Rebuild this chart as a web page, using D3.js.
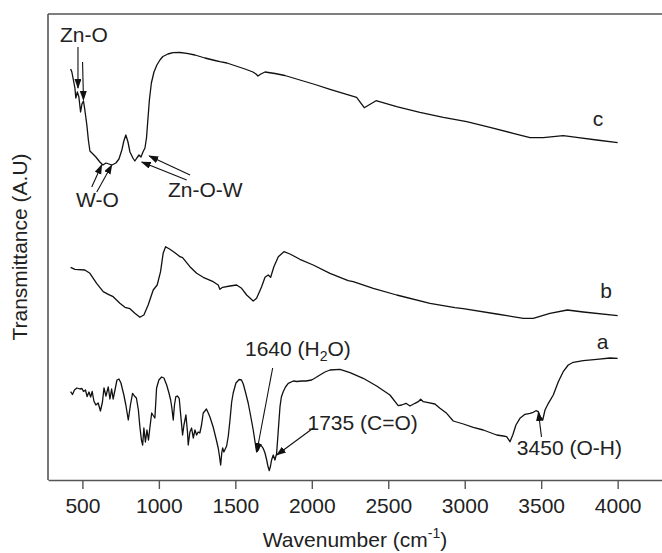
<!DOCTYPE html>
<html>
<head>
<meta charset="utf-8">
<script src="https://cdn.jsdelivr.net/npm/d3@7"></script>
<style>
  body { margin: 0; background: #fff; }
  text { font-family: "Liberation Sans", Arial, sans-serif; fill: #222; }
</style>
</head>
<body>
<div class="canvas"></div>
<script>
// spectra (wavenumber in cm-1, transmittance in a.u.)
const wnC = [423,431,441,451,457,467,477,488,497,507,516,529,539,549,569,588,614,634,654,673,693,719,739,758,771,784,798,811,830,843,856,870,883,896,909,919,928,938,951,968,987,1007,1026,1059,1092,1138,1183,1236,1301,1367,1399,1445,1484,1563,1615,1635,1648,1667,1694,1759,1824,1922,2021,2119,2206,2293,2343,2420,2555,2707,2860,3013,3165,3317,3427,3514,3644,3732,3863,4000];
const tC = [411,408,400,392,382,388,383,368,376,379,370,355,340,329,326,323,318,315,317,316,315,317,321,330,339,345,338,328,322,319,322,325,323,328,332,342,360,380,397,408,415,420,423.5,426,427.3,427.5,426.7,425,422,419.5,418.3,417,415,411,408,406,404,406,408,406.5,404.5,400,395.5,390.7,386.7,382.7,372.3,379.3,373.3,367.7,362.7,358.3,352.7,346.7,342.3,342.3,344.3,342.7,340,337.3];

const wnB = [423,451,516,549,593,636,669,701,745,778,811,843,876,902,930,963,989,1011,1028,1044,1072,1105,1138,1155,1203,1247,1290,1355,1388,1399,1417,1465,1508,1541,1574,1617,1639,1672,1694,1715,1731,1752,1781,1818,1857,1922,2009,2119,2238,2271,2402,2555,2773,2936,2990,3209,3383,3448,3557,3671,3775,4000];
const tB = [212.7,210.7,210,206.7,196.7,188.3,185.7,183.3,176.7,172.7,171.3,166.7,162.7,165,175,190,195,208.3,226.7,233.3,230.7,227.3,223.3,222.3,213.3,206.7,202.7,198.3,195,190.7,192.7,194,195,191.7,185,179,181.7,193.3,202.7,205,202.7,213.3,223.3,228.3,226,220.7,215,206.7,199.3,198.3,191.7,185,176.7,172.3,171.3,166,161.7,161.7,166.7,170,168,164.3];

const wnA = [423,435,448,464,484,497,507,520,531,543,554,564,575,588,603,618,631,641,654,669,680,691,701,713,726,739,752,771,784,800,814,828,840,853,866,876,886,894,902,912,922,932,941,953,961,974,985,1000,1018,1033,1051,1066,1077,1085,1094,1102,1111,1121,1133,1141,1155,1164,1177,1187,1192,1203,1214,1225,1236,1247,1257,1268,1279,1290,1301,1311,1323,1334,1355,1376,1388,1396,1404,1412,1417,1425,1443,1454,1465,1476,1486,1504,1525,1540,1552,1566,1584,1599,1617,1628,1639,1650,1658,1667,1682,1694,1705,1713,1722,1730,1737,1748,1759,1770,1781,1792,1801,1813,1828,1846,1879,1903,1934,1962,1999,2027,2053,2086,2119,2184,2250,2336,2424,2511,2565,2588,2616,2642,2675,2696,2712,2729,2762,2805,2838,2882,2925,2991,3056,3121,3209,3252,3274,3296,3314,3335,3361,3394,3427,3448,3466,3481,3492,3510,3525,3547,3579,3612,3644,3677,3710,3775,3863,3950,4000];
const tA = [88.3,85.5,90,92,91,91.5,88.5,90,83.5,88,83,88.5,79,75,77,69,78,92,84,93,81,91,81,90,100,101,97,85,75,60,75,86.7,84,82,70,53,40,35,52,38,50,40,52,67,65,62,92,100,103,102,95,87,80,72,60,75,83.3,84,81.7,68,45,55,65,48,35,48,52,42,50,45,48,47,55,67,69,71,67,63,53,40,32,24,15,28,32,28,34,44,60,78,87,97,100.5,100,96,88,77,65,50,39,28.3,30,33,35,31.7,27,20,14,9.3,14,20,25,20,26.7,50,73.3,83,88.3,93,96.7,99,98.5,99,99,100,102.5,105,108,110,110.7,107.3,101.7,94,85,74.3,75,76.7,74,76.7,78.3,80.7,78.3,77.3,76,71.7,66.7,59,56,52.7,50,45,44,43.3,38.3,45,55,61.7,65.7,66.7,67.7,69.3,68.3,63.3,60,70,76.7,85,98.3,108.3,115,117.7,119.3,120.7,122,121.7];

const xTicks = [500, 1000, 1500, 2000, 2500, 3000, 3500, 4000];

const width = 662;
const height = 553;
const margin = {top: 14, right: 0, bottom: 73, left: 48};

const svg = d3.select('.canvas')
  .append('svg')
  .attr('width', width)
  .attr('height', height);

const x = d3.scaleLinear()
  .domain([275, 4290])
  .range([margin.left, width - margin.right]);

const y = d3.scaleLinear()
  .domain([0, 466])
  .range([height - margin.bottom, margin.top]);

// arrow head
svg.append('defs').append('marker')
  .attr('id', 'head')
  .attr('markerUnits', 'userSpaceOnUse')
  .attr('markerWidth', 10)
  .attr('markerHeight', 8)
  .attr('refX', 9)
  .attr('refY', 3.5)
  .attr('orient', 'auto')
  .append('path')
    .attr('d', 'M0,0 L10,3.5 L0,7 Z')
    .attr('fill', '#111');

// frame: left and top lines, bottom is the axis
const frameColor = '#555';
svg.append('line')
  .attr('x1', margin.left).attr('x2', margin.left)
  .attr('y1', margin.top).attr('y2', height - margin.bottom)
  .attr('stroke', frameColor).attr('stroke-width', 1.6);
svg.append('line')
  .attr('x1', margin.left).attr('x2', width)
  .attr('y1', margin.top).attr('y2', margin.top)
  .attr('stroke', frameColor).attr('stroke-width', 1.6);

const xAxis = d3.axisBottom(x)
  .tickValues(xTicks)
  .tickSize(9)
  .tickSizeOuter(0)
  .tickFormat(d3.format('d'));

const xAxisGroup = svg.append('g')
  .attr('transform', `translate(0, ${height - margin.bottom})`)
  .call(xAxis);

xAxisGroup.select('.domain')
  .attr('stroke', frameColor)
  .attr('stroke-width', 1.6);
xAxisGroup.selectAll('.tick line')
  .attr('stroke', frameColor)
  .attr('stroke-width', 1.4);
xAxisGroup.selectAll('.tick text')
  .attr('y', 33)
  .attr('dy', 0)
  .attr('font-size', '21px')
  .attr('font-family', '"Liberation Sans", Arial, sans-serif')
  .attr('fill', '#222');

// spectra
const line = d3.line()
  .x(d => x(d[0]))
  .y(d => y(d[1]));

const series = [
  {name: 'c', wn: wnC, t: tC},
  {name: 'b', wn: wnB, t: tB},
  {name: 'a', wn: wnA, t: tA}
];

svg.selectAll('path.spectrum')
  .data(series)
  .enter()
  .append('path')
    .attr('class', 'spectrum')
    .attr('fill', 'none')
    .attr('stroke', '#111')
    .attr('stroke-width', 1.3)
    .attr('stroke-linejoin', 'round')
    .attr('d', s => line(s.wn.map((w, i) => [w, s.t[i]])));

// curve labels
const curveLabels = [
  {text: 'c', w: 3871, v: 354},
  {text: 'b', w: 3924, v: 182},
  {text: 'a', w: 3902, v: 131}
];
svg.selectAll('text.curve')
  .data(curveLabels)
  .enter()
  .append('text')
    .attr('class', 'curve')
    .attr('x', d => x(d.w))
    .attr('y', d => y(d.v))
    .attr('text-anchor', 'middle')
    .attr('font-size', '21px')
    .text(d => d.text);

// band annotations, arrows go from tail (w1,v1) to tip (w2,v2)
const arrows = [
  [471, 433, 471, 392],
  [501, 418, 507, 380],
  [561, 293, 626, 315],
  [594, 288, 692, 315],
  [1204, 305, 937, 324],
  [1182, 300, 888, 318],
  [1744, 112, 1640, 28],
  [2010, 52, 1771, 25],
  [3502, 43, 3482, 68]
];
svg.selectAll('line.arrow')
  .data(arrows)
  .enter()
  .append('line')
    .attr('class', 'arrow')
    .attr('x1', d => x(d[0]))
    .attr('y1', d => y(d[1]))
    .attr('x2', d => x(d[2]))
    .attr('y2', d => y(d[3]))
    .attr('stroke', '#111')
    .attr('stroke-width', 1.1)
    .attr('marker-end', 'url(#head)');

const notes = [
  {text: 'Zn-O', w: 353, v: 438},
  {text: 'W-O', w: 458, v: 273},
  {text: 'Zn-O-W', w: 1059, v: 283},
  {text: '1735 (C=O)', w: 1972, v: 50},
  {text: '3450 (O-H)', w: 3341, v: 25}
];
svg.selectAll('text.note')
  .data(notes)
  .enter()
  .append('text')
    .attr('class', 'note')
    .attr('x', d => x(d.w))
    .attr('y', d => y(d.v))
    .attr('font-size', '21px')
    .text(d => d.text);

// 1640 (H2O) with subscript
const h2o = svg.append('text')
  .attr('x', x(1563))
  .attr('y', y(124))
  .attr('font-size', '21px');
h2o.append('tspan').text('1640 (H');
h2o.append('tspan').attr('font-size', '14px').attr('dy', 5).text('2');
h2o.append('tspan').attr('dy', -5).text('O)');

// axis titles
const xTitle = svg.append('text')
  .attr('x', (margin.left + width) / 2)
  .attr('y', 547)
  .attr('text-anchor', 'middle')
  .attr('font-size', '21px');
xTitle.append('tspan').text('Wavenumber (cm');
xTitle.append('tspan').attr('font-size', '14px').attr('dy', -9).text('-1');
xTitle.append('tspan').attr('dy', 9).text(')');

svg.append('text')
  .attr('transform', 'translate(27, 247) rotate(-90)')
  .attr('text-anchor', 'middle')
  .attr('font-size', '21px')
  .text('Transmittance (A.U)');
</script>
</body>
</html>
